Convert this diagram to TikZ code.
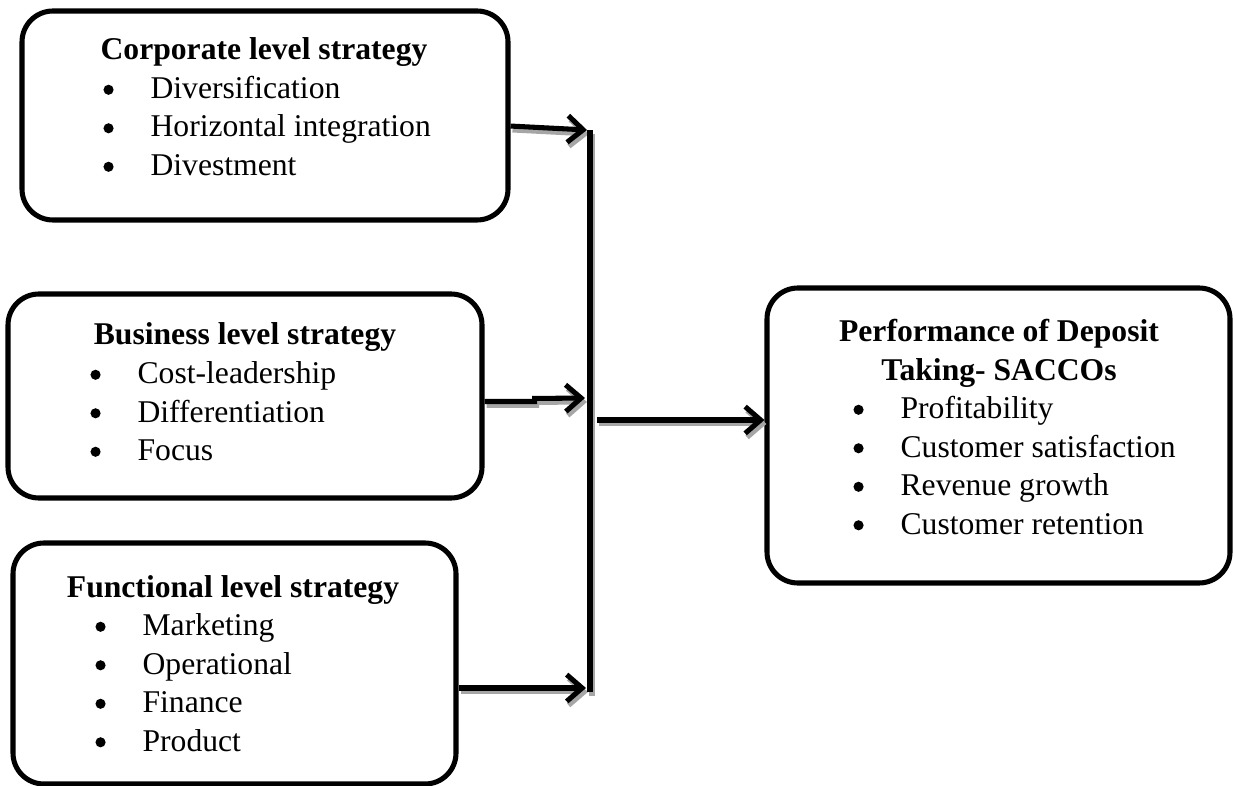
\documentclass[tikz,border=0pt]{standalone}
\usepackage{fontspec}
\setmainfont{Liberation Serif}
\usetikzlibrary{arrows.meta,fit}

\newcommand{\boxfont}{\fontsize{22.5}{27}\selectfont}
\newcommand{\bul}{\makebox[34pt][l]{\hspace{0.5pt}\tikz[baseline=0pt]\fill (3.6pt,6.2pt) circle[radius=3.6pt];}}

\tikzset{
	box/.style={draw, line width=3.6pt, rounded corners=22pt, inner sep=0pt},
	title/.style={font=\boxfont\bfseries, anchor=base, inner sep=0pt},
	entry/.style={font=\boxfont, anchor=base west, inner sep=0pt},
	link/.style={line width=3.6pt, -{Straight Barb[length=11pt,width=19pt]}}
}

\begin{document}
\begin{tikzpicture}[x=0.025cm, y=-0.025cm]
	\useasboundingbox (0,0) rectangle (1233,786);

	% boxes
	\node[box, fit={(22,11) (508,220)}] (corp) {};
	\node[box, fit={(8,294) (482,498)}] (bus) {};
	\node[box, fit={(13,543) (456,784)}] (func) {};
	\node[box, fit={(767,288) (1230,583)}] (perf) {};

	% headings
	\node[title] (corp-title) at (264,60) {Corporate level strategy};
	\node[title] (bus-title) at (245,345) {Business level strategy};
	\node[title] (func-title) at (233,597) {Functional level strategy};
	\node[title] (perf-title) at (999,342) {Performance of Deposit};
	\node[title] (perf-title2) at (999,380) {Taking- SACCOs};

	% bullet lists
	\foreach \txt [count=\i] in {Diversification, Horizontal integration, Divestment}
		\node[entry] (corp-\i) at (102.5, 60+38.5*\i) {\bul\txt};
	\foreach \txt [count=\i] in {Cost-leadership, Differentiation, Focus}
		\node[entry] (bus-\i) at (89.5, 345+38.5*\i) {\bul\txt};
	\foreach \txt [count=\i] in {Marketing, Operational, Finance, Product}
		\node[entry] (func-\i) at (94.5, 597+38.5*\i) {\bul\txt};
	\foreach \txt [count=\i] in {Profitability, Customer satisfaction, Revenue growth, Customer retention}
		\node[entry] (perf-\i) at (852.5, 380+38.5*\i) {\bul\txt};

	% bar and arrows
	\coordinate (bar-top) at (590,130);
	\coordinate (bar-bot) at (590,692);
	\coordinate (corp-in) at (587,130);
	\coordinate (bus-in) at (585,398);
	\coordinate (func-in) at (586,688);
	\coordinate (hub) at (597,420);

	\foreach \shade/\dx/\dy in {black!35/1.4pt/-2.8pt, black/0pt/0pt} {
		\begin{scope}[color=\shade, transform canvas={shift={(\dx,\dy)}}]
			\draw[line width=3.6pt] (bar-top) -- (bar-bot);
			\draw[link] ([yshift=-7.5pt]corp.east) -- (corp-in);
			\draw[link] ([yshift=-3.9pt]bus.east) -- ++(50,0) -- ++(0,-3) -- (bus-in);
			\draw[link] (func.east |- func-in) -- (func-in);
			\draw[link] (hub) -- (perf.west |- hub);
		\end{scope}
	}
\end{tikzpicture}
\end{document}
